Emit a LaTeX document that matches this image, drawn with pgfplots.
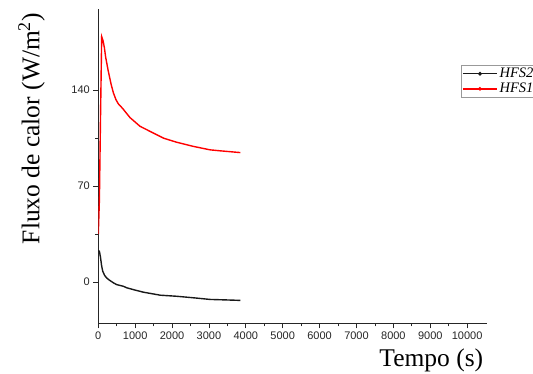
\documentclass[border=0pt]{standalone}
\usepackage{pgfplots}
\pgfplotsset{compat=1.18}
\usepackage{fontspec}
\setmainfont{Liberation Serif}
\newfontfamily\arial{Liberation Sans}
\begin{document}
\begin{tikzpicture}[x=1pt,y=1pt]
\begin{axis}[
  name=ax,
  scale only axis,
  width=388.4pt, height=314pt,
  xmin=0, xmax=10530, ymin=-30, ymax=199,
  axis x line*=bottom, axis y line*=left,
  axis line style={-, line width=0.8pt, black!85},
  xtick={0,1000,...,10000}, ytick={0,70,140},
  scaled ticks=false,
  minor x tick num=1, minor y tick num=1,
  tick align=outside,
  major tick length=5pt, minor tick length=3pt,
  tick style={line width=0.8pt, black!85},
  /pgf/number format/assume math mode=true,
  /pgf/number format/1000 sep={},
  tick label style={font=\arial\fontsize{11}{11}\selectfont, text=black!85},
  xlabel={Tempo (s)},
  ylabel={Fluxo de calor (W/m\textsuperscript{2})},
  xlabel style={font=\fontsize{25.5}{28}\selectfont, at={(axis description cs:1,-0.138)}, anchor=base east},
  ylabel style={font=\fontsize{25.5}{28}\selectfont, at={(axis description cs:-0.152,0.62)}, anchor=base},
  legend style={at={(axis description cs:0.934,0.8226)}, anchor=north west,
    draw=black!40, font=\itshape\fontsize{14.5}{15}\selectfont, inner sep=1pt,
    row sep=0pt, cells={anchor=west}},
  legend image code/.code={\draw[#1] (0pt,0pt) -- (34pt,0pt); \fill[#1] (17pt,0pt) circle (1.1pt);},
]
\addplot[black!90, line width=1.4pt] coordinates {
(0,23) (30,22.5) (60,18) (90,12) (120,8) (170,5) (230,3) (300,1.5) (410,-0.5)
(500,-1.8) (590,-2.4) (680,-3) (770,-4.1) (1000,-5.8) (1220,-7.3) (1680,-9.5)
(2130,-10.3) (2580,-11.4) (3030,-12.6) (3400,-12.9) (3850,-13.3)};
\addlegendentry{HFS2}
\addplot[red, line width=1.4pt] coordinates {
(0,35) (30,60) (60,120) (92,179) (130,176) (165,171) (200,164) (270,154) (350,144)
(410,138) (480,133) (545,130) (600,128.5) (680,126) (860,120) (1130,113.7)
(1400,110) (1770,105) (2130,102) (2580,99) (3030,96.5) (3300,95.8) (3850,94.5)};
\addlegendentry{HFS1}
\end{axis}
\pgfresetboundingbox
\path[use as bounding box] ([xshift=-98.3pt,yshift=-50.7pt]ax.south west) rectangle ([xshift=46.3pt,yshift=9.3pt]ax.north east);
\end{tikzpicture}
\end{document}
